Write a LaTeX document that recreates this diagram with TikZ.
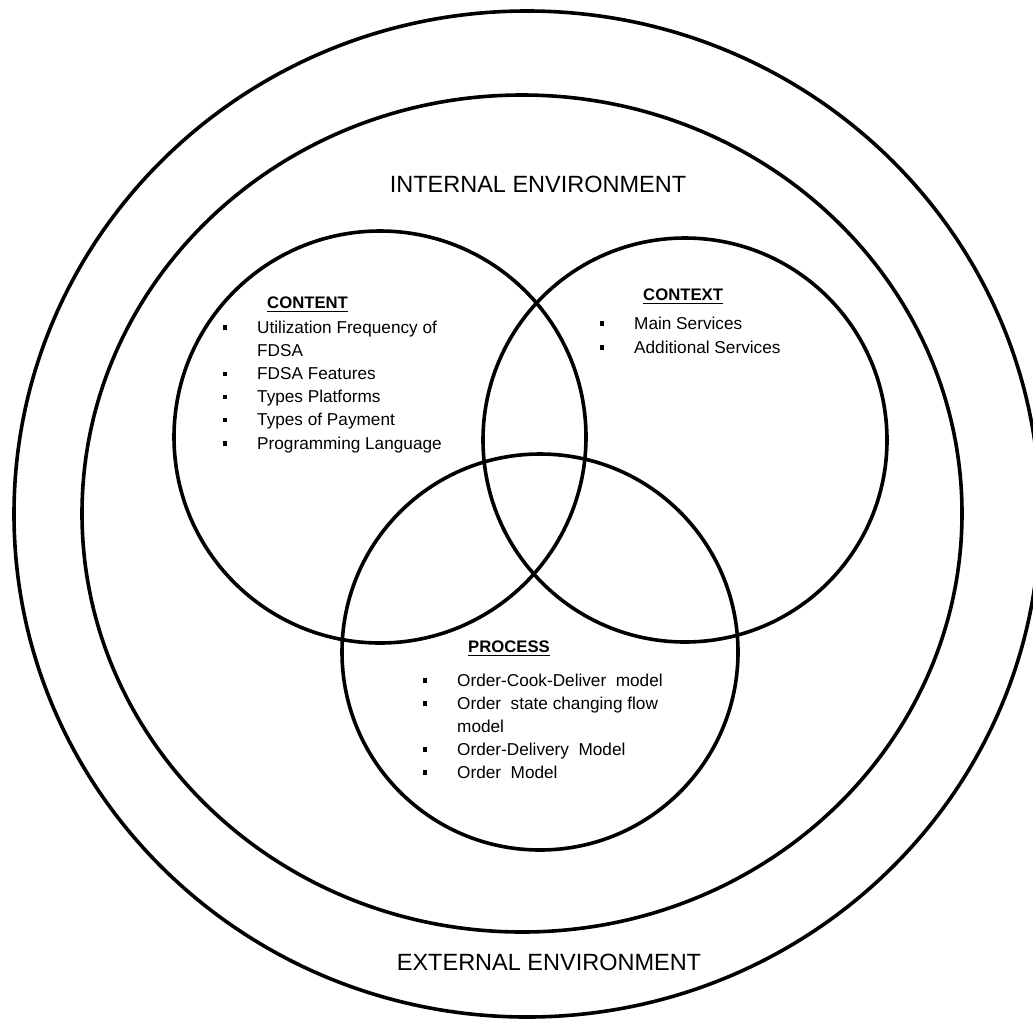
\documentclass[tikz,border=0pt]{standalone}
\usepackage{fontspec}
\setmainfont{Liberation Sans}
\begin{document}
\begin{tikzpicture}[x=1pt,y=-1pt,
  ring/.style={draw=black, line width=3.6pt},
  env/.style={font=\fontsize{23.5}{28}\selectfont, anchor=base, inner sep=0pt},
  head/.style={font=\bfseries\fontsize{16.7}{20}\selectfont, anchor=base west, inner sep=0pt},
  itm/.style={font=\fontsize{17.2}{23}\selectfont, anchor=base west, inner sep=0pt},
  bul/.style={fill=black, shape=rectangle, minimum size=4.5pt, inner sep=0pt},
  uline/.style={line width=1.2pt}]
\useasboundingbox (0,0) rectangle (1033,1021);
\clip (0,0) rectangle (1033,1021);
% environment rings
\draw[ring] (527,514) ellipse [x radius=513, y radius=503];
\draw[ring] (522,513.5) ellipse [x radius=440, y radius=418.5];
% three circles
\draw[ring] (380,437) circle [radius=206];
\draw[ring] (685,440) circle [radius=202];
\draw[ring] (540,652) circle [radius=198];
% environment labels
\node[env] (intenv) at (538,192) {INTERNAL ENVIRONMENT};
\node[env] (extenv) at (549,970) {EXTERNAL ENVIRONMENT};
% headings
\node[head] (hcontent) at (267,308) {CONTENT};
\node[head] (hcontext) at (643,300) {CONTEXT};
\node[head] (hprocess) at (468,652) {PROCESS};
\foreach \h in {hcontent,hcontext,hprocess}
  \draw[uline] ([yshift=-3.5pt]\h.base west) -- ([yshift=-3.5pt]\h.base east);
% CONTENT items
\node[itm] (ct1) at (257,333) {Utilization Frequency of};
\node[itm] (ct1b) at (257,356) {FDSA};
\node[itm] (ct2) at (257,379.5) {FDSA Features};
\node[itm] (ct3) at (257,402.5) {Types Platforms};
\node[itm] (ct4) at (257,425.5) {Types of Payment};
\node[itm] (ct5) at (257,449) {Programming Language};
\foreach \n/\y in {bct1/333,bct2/379.5,bct3/402.5,bct4/425.5,bct5/449}
  \node[bul] (\n) at (225,\y-5.5) {};
% CONTEXT items
\node[itm] (cx1) at (634,329) {Main Services};
\node[itm] (cx2) at (634,353) {Additional Services};
\foreach \n/\y in {bcx1/329,bcx2/353}
  \node[bul] (\n) at (602,\y-5.5) {};
% PROCESS items
\node[itm] (p1) at (457,686) {Order-Cook-Deliver\ \ model};
\node[itm] (p2) at (457,709) {Order\ \ state changing flow};
\node[itm] (p2b) at (457,732) {model};
\node[itm] (p3) at (457,755) {Order-Delivery\ \ Model};
\node[itm] (p4) at (457,778) {Order\ \ Model};
\foreach \n/\y in {bp1/686,bp2/709,bp3/755,bp4/778}
  \node[bul] (\n) at (425,\y-5.5) {};
\end{tikzpicture}
\end{document}
